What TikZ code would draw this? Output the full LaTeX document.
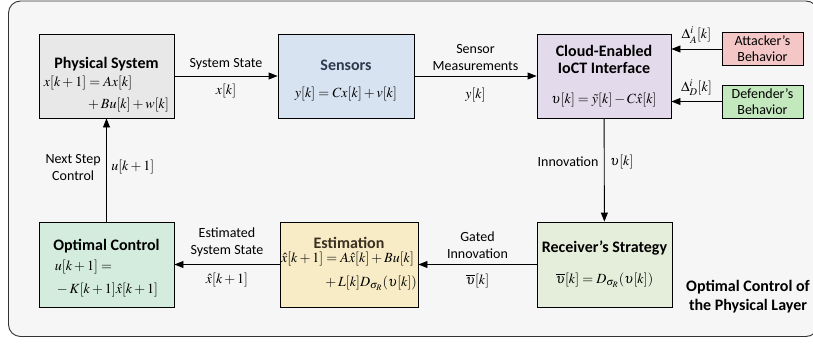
\documentclass[tikz,border=0pt]{standalone}
\usepackage{amsmath, amssymb}
\usepackage{mathptmx}
\usepackage[no-math]{fontspec}
\setmainfont{Carlito}
\usepackage{tikz}
\usetikzlibrary{positioning, arrows.meta, calc}

\definecolor{physfill}{HTML}{E8E8E8}
\definecolor{sensfill}{HTML}{D7E3F1}
\definecolor{cloudfill}{HTML}{E3DAEC}
\definecolor{attfill}{HTML}{F5C6C6}
\definecolor{deffill}{HTML}{C4E8BE}
\definecolor{optfill}{HTML}{D4ECDE}
\definecolor{estfill}{HTML}{F8ECC6}
\definecolor{recfill}{HTML}{E5EDDB}
\definecolor{bgfill}{HTML}{F6F6F6}

\newcommand{\blocktitle}[1]{{\fontsize{16}{19}\selectfont\bfseries #1}}

\begin{document}
\begin{tikzpicture}[
    x=1pt, y=-1pt,
    block/.style={draw, line width=0.9pt, minimum width=135pt, minimum height=84pt,
        align=center, inner sep=1pt, font=\fontsize{14}{17}\selectfont},
    player/.style={draw, line width=0.9pt, minimum width=81pt, minimum height=33pt,
        align=center, inner sep=1pt, font=\fontsize{14}{16}\selectfont},
    flow/.style={-{Triangle[length=9pt, width=7pt]}, line width=0.9pt},
    lbl/.style={font=\fontsize{14}{17}\selectfont, align=center}
]
    % frame and page size
    \useasboundingbox (0,0) rectangle (813,343);
    \draw[fill=bgfill, draw=black!80, line width=0.9pt, rounded corners=12pt]
        (8.5,1) rectangle (818,336.5);

    % upper row: plant, sensors, cloud
    \node[block, fill=physfill] (phys) at (106.5,76)
        {\rule{0pt}{30pt}\blocktitle{Physical System}\\[3pt]
         $\begin{aligned} x[k+1] &= Ax[k]\\[2pt] &+ Bu[k]+w[k]\end{aligned}$};
    \node[block, fill=sensfill, minimum width=136pt] (sens) at (346,76)
        {\rule{0pt}{20pt}\blocktitle{\color[HTML]{2E3B4E}Sensors}\\[10pt]
         $y[k]=Cx[k]+v[k]$};
    \node[block, fill=cloudfill, minimum width=134pt] (cloud) at (604,76)
        {\blocktitle{Cloud-Enabled}\\[0pt]\blocktitle{IoCT Interface}\\[13pt]
         $\upsilon[k]=\tilde{y}[k]-C\hat{x}[k]$};

    % attacker and defender
    \node[player, fill=attfill] (att) at (762.5,49) {Attacker’s\\Behavior};
    \node[player, fill=deffill] (def) at (762.5,101.5) {Defender’s\\Behavior};

    % lower row: control, estimation, receiver
    \node[block, fill=optfill, minimum height=85pt] (opt) at (106.5,264.5)
        {\rule{0pt}{20pt}\blocktitle{Optimal Control}\\[4pt]
         $\begin{aligned} &u[k+1]=\\[3pt] &-K[k+1]\hat{x}[k+1]\end{aligned}$};
    \node[block, fill=estfill, minimum width=138pt, minimum height=85pt] (est) at (349,264.5)
        {\blocktitle{\color[HTML]{3A3020}Estimation}\\[1pt]
         $\begin{aligned} \hat{x}[k+1] &= A\hat{x}[k]+Bu[k]\\[4pt] &+ L[k]D_{\sigma_R}(\upsilon[k])\end{aligned}$};
    \node[block, fill=recfill, minimum height=85pt] (rec) at (604.5,264.5)
        {\blocktitle{Receiver’s Strategy}\\[14pt]
         $\overline{\upsilon}[k]=D_{\sigma_R}(\upsilon[k])$};

    % side note
    \node[font=\fontsize{16}{19}\selectfont\bfseries, align=center] (note) at (748,297)
        {Optimal Control of\\the Physical Layer};

    % connections
    \draw[flow] (phys) -- node[lbl, above=2pt] {System State}
        node[lbl, below=4pt] {$x[k]$} (sens);
    \draw[flow] (sens) -- node[lbl, above=2pt] {Sensor\\Measurements}
        node[lbl, below=8pt] {$y[k]$} (cloud);
    \draw[flow] (att.west) -- node[lbl, above=2pt] {$\Delta_A^i[k]$} (att.west -| cloud.east);
    \draw[flow] (def.west) -- node[lbl, above=2pt] {$\Delta_D^i[k]$} (def.west -| cloud.east);
    \draw[flow] (cloud) -- node[lbl, pos=0.42, left=2pt] {Innovation}
        node[lbl, pos=0.42, right=2pt] {$\upsilon[k]$} (rec);
    \draw[flow] (rec) -- node[lbl, above=2pt] {Gated\\Innovation}
        node[lbl, below=6pt] {$\overline{\upsilon}[k]$} (est);
    \draw[flow] (est) -- node[lbl, above=4pt] {Estimated\\System State}
        node[lbl, below=5pt] {$\hat{x}[k+1]$} (opt);
    \draw[flow] (opt) -- node[lbl, pos=0.52, left=2pt] {Next Step\\Control}
        node[lbl, pos=0.53, right=1pt] {$u[k+1]$} (phys);
\end{tikzpicture}
\end{document}
